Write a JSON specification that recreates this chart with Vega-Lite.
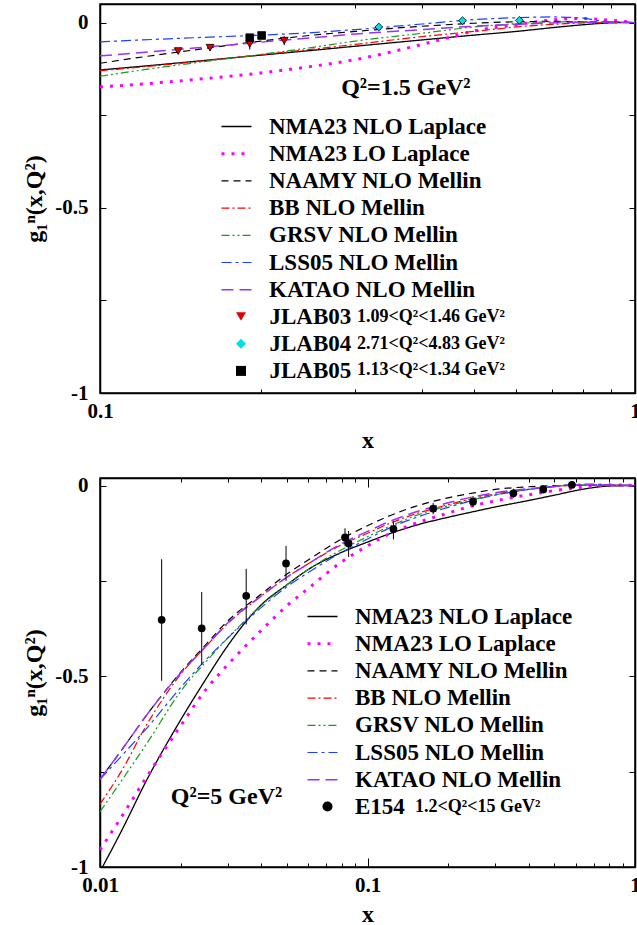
{
  "$schema": "https://vega.github.io/schema/vega-lite/v6.json",
  "padding": {"left": 22, "top": 2, "right": 0, "bottom": 0},
  "spacing": 20,
  "resolve": {"scale": {"stroke": "independent", "strokeDash": "independent", "strokeWidth": "independent", "shape": "independent", "fill": "independent", "opacity": "independent"}},
  "config": {
    "font": "Liberation Serif",
    "view": {"stroke": "black", "strokeWidth": 1.5},
    "axis": {"labelFont": "Liberation Serif", "labelFontSize": 21, "labelFontWeight": "bold", "labelColor": "black", "titleFont": "Liberation Serif", "titleFontSize": 24, "titleFontWeight": "bold", "titleColor": "black", "domainColor": "black", "domainWidth": 1.5, "tickColor": "black", "tickWidth": 1, "grid": false, "labelFlush": false, "labelOverlap": false},
    "legend": {"labelFont": "Liberation Serif", "labelFontWeight": "bold", "labelColor": "black", "labelLimit": 0, "padding": 0, "symbolOpacity": 1},
    "text": {"font": "Liberation Serif", "fontWeight": "bold", "fontSize": 24, "color": "black"}
  },
  "datasets": {
    "top_curves": [
      {"model":"NMA23 NLO Laplace","x":0.1,"g1":-0.128},{"model":"NMA23 NLO Laplace","x":0.12,"g1":-0.118},{"model":"NMA23 NLO Laplace","x":0.15,"g1":-0.105},{"model":"NMA23 NLO Laplace","x":0.2,"g1":-0.088},{"model":"NMA23 NLO Laplace","x":0.25,"g1":-0.075},{"model":"NMA23 NLO Laplace","x":0.3,"g1":-0.064},{"model":"NMA23 NLO Laplace","x":0.4,"g1":-0.047},{"model":"NMA23 NLO Laplace","x":0.5,"g1":-0.034},{"model":"NMA23 NLO Laplace","x":0.6,"g1":-0.024},{"model":"NMA23 NLO Laplace","x":0.7,"g1":-0.014},{"model":"NMA23 NLO Laplace","x":0.8,"g1":-0.006},{"model":"NMA23 NLO Laplace","x":0.9,"g1":-0.001},{"model":"NMA23 NLO Laplace","x":1,"g1":0},
      {"model":"NMA23 LO Laplace","x":0.1,"g1":-0.174},{"model":"NMA23 LO Laplace","x":0.12,"g1":-0.166},{"model":"NMA23 LO Laplace","x":0.15,"g1":-0.154},{"model":"NMA23 LO Laplace","x":0.2,"g1":-0.136},{"model":"NMA23 LO Laplace","x":0.25,"g1":-0.118},{"model":"NMA23 LO Laplace","x":0.3,"g1":-0.1},{"model":"NMA23 LO Laplace","x":0.4,"g1":-0.059},{"model":"NMA23 LO Laplace","x":0.45,"g1":-0.04},{"model":"NMA23 LO Laplace","x":0.5,"g1":-0.023},{"model":"NMA23 LO Laplace","x":0.6,"g1":-0.006},{"model":"NMA23 LO Laplace","x":0.7,"g1":0.007},{"model":"NMA23 LO Laplace","x":0.8,"g1":0.011},{"model":"NMA23 LO Laplace","x":0.9,"g1":0.006},{"model":"NMA23 LO Laplace","x":1,"g1":0},
      {"model":"NAAMY NLO Mellin","x":0.1,"g1":-0.11},{"model":"NAAMY NLO Mellin","x":0.12,"g1":-0.093},{"model":"NAAMY NLO Mellin","x":0.15,"g1":-0.074},{"model":"NAAMY NLO Mellin","x":0.2,"g1":-0.05},{"model":"NAAMY NLO Mellin","x":0.25,"g1":-0.034},{"model":"NAAMY NLO Mellin","x":0.3,"g1":-0.024},{"model":"NAAMY NLO Mellin","x":0.4,"g1":-0.01},{"model":"NAAMY NLO Mellin","x":0.5,"g1":-0.002},{"model":"NAAMY NLO Mellin","x":0.6,"g1":0.002},{"model":"NAAMY NLO Mellin","x":0.7,"g1":0.003},{"model":"NAAMY NLO Mellin","x":0.8,"g1":0.002},{"model":"NAAMY NLO Mellin","x":0.9,"g1":0.001},{"model":"NAAMY NLO Mellin","x":1,"g1":0},
      {"model":"BB NLO Mellin","x":0.1,"g1":-0.13},{"model":"BB NLO Mellin","x":0.12,"g1":-0.12},{"model":"BB NLO Mellin","x":0.15,"g1":-0.106},{"model":"BB NLO Mellin","x":0.2,"g1":-0.087},{"model":"BB NLO Mellin","x":0.25,"g1":-0.072},{"model":"BB NLO Mellin","x":0.3,"g1":-0.059},{"model":"BB NLO Mellin","x":0.4,"g1":-0.038},{"model":"BB NLO Mellin","x":0.5,"g1":-0.024},{"model":"BB NLO Mellin","x":0.6,"g1":-0.012},{"model":"BB NLO Mellin","x":0.7,"g1":-0.005},{"model":"BB NLO Mellin","x":0.8,"g1":-0.001},{"model":"BB NLO Mellin","x":0.9,"g1":0},{"model":"BB NLO Mellin","x":1,"g1":0},
      {"model":"GRSV NLO Mellin","x":0.1,"g1":-0.145},{"model":"GRSV NLO Mellin","x":0.12,"g1":-0.128},{"model":"GRSV NLO Mellin","x":0.15,"g1":-0.109},{"model":"GRSV NLO Mellin","x":0.2,"g1":-0.086},{"model":"GRSV NLO Mellin","x":0.25,"g1":-0.067},{"model":"GRSV NLO Mellin","x":0.3,"g1":-0.05},{"model":"GRSV NLO Mellin","x":0.4,"g1":-0.029},{"model":"GRSV NLO Mellin","x":0.5,"g1":-0.012},{"model":"GRSV NLO Mellin","x":0.6,"g1":-0.003},{"model":"GRSV NLO Mellin","x":0.7,"g1":0.002},{"model":"GRSV NLO Mellin","x":0.8,"g1":0.002},{"model":"GRSV NLO Mellin","x":0.9,"g1":0.001},{"model":"GRSV NLO Mellin","x":1,"g1":0},
      {"model":"LSS05 NLO Mellin","x":0.1,"g1":-0.052},{"model":"LSS05 NLO Mellin","x":0.12,"g1":-0.047},{"model":"LSS05 NLO Mellin","x":0.15,"g1":-0.041},{"model":"LSS05 NLO Mellin","x":0.2,"g1":-0.034},{"model":"LSS05 NLO Mellin","x":0.25,"g1":-0.027},{"model":"LSS05 NLO Mellin","x":0.3,"g1":-0.019},{"model":"LSS05 NLO Mellin","x":0.4,"g1":-0.004},{"model":"LSS05 NLO Mellin","x":0.5,"g1":0.008},{"model":"LSS05 NLO Mellin","x":0.6,"g1":0.013},{"model":"LSS05 NLO Mellin","x":0.7,"g1":0.015},{"model":"LSS05 NLO Mellin","x":0.8,"g1":0.012},{"model":"LSS05 NLO Mellin","x":0.85,"g1":0.006},{"model":"LSS05 NLO Mellin","x":0.9,"g1":0.002},{"model":"LSS05 NLO Mellin","x":1,"g1":0},
      {"model":"KATAO NLO Mellin","x":0.1,"g1":-0.09},{"model":"KATAO NLO Mellin","x":0.12,"g1":-0.081},{"model":"KATAO NLO Mellin","x":0.15,"g1":-0.069},{"model":"KATAO NLO Mellin","x":0.2,"g1":-0.053},{"model":"KATAO NLO Mellin","x":0.25,"g1":-0.041},{"model":"KATAO NLO Mellin","x":0.3,"g1":-0.031},{"model":"KATAO NLO Mellin","x":0.4,"g1":-0.019},{"model":"KATAO NLO Mellin","x":0.5,"g1":-0.01},{"model":"KATAO NLO Mellin","x":0.6,"g1":-0.005},{"model":"KATAO NLO Mellin","x":0.7,"g1":-0.001},{"model":"KATAO NLO Mellin","x":0.8,"g1":0.001},{"model":"KATAO NLO Mellin","x":0.9,"g1":0.001},{"model":"KATAO NLO Mellin","x":1,"g1":0}
    ],
    "top_points": [
      {"dataset":"JLAB03","qrange":"1.09<Q²<1.46 GeV²","x":0.140,"g1":-0.077,"lo":-0.085,"hi":-0.069},
      {"dataset":"JLAB03","qrange":"1.09<Q²<1.46 GeV²","x":0.1606,"g1":-0.068,"lo":-0.076,"hi":-0.060},
      {"dataset":"JLAB03","qrange":"1.09<Q²<1.46 GeV²","x":0.1905,"g1":-0.058,"lo":-0.073,"hi":-0.043},
      {"dataset":"JLAB03","qrange":"1.09<Q²<1.46 GeV²","x":0.221,"g1":-0.049,"lo":-0.061,"hi":-0.037},
      {"dataset":"JLAB04","qrange":"2.71<Q²<4.83 GeV²","x":0.332,"g1":-0.012,"lo":-0.016,"hi":-0.008},
      {"dataset":"JLAB04","qrange":"2.71<Q²<4.83 GeV²","x":0.476,"g1":0.005,"lo":0.002,"hi":0.008},
      {"dataset":"JLAB04","qrange":"2.71<Q²<4.83 GeV²","x":0.608,"g1":0.006,"lo":0.003,"hi":0.009},
      {"dataset":"JLAB05","qrange":"1.13<Q²<1.34 GeV²","x":0.1905,"g1":-0.041,"lo":-0.046,"hi":-0.036},
      {"dataset":"JLAB05","qrange":"1.13<Q²<1.34 GeV²","x":0.2005,"g1":-0.035,"lo":-0.040,"hi":-0.030}
    ],
    "bottom_curves": [
      {"model":"NMA23 NLO Laplace","x":0.01,"g1":-1.012},{"model":"NMA23 NLO Laplace","x":0.012,"g1":-0.907},{"model":"NMA23 NLO Laplace","x":0.015,"g1":-0.77},{"model":"NMA23 NLO Laplace","x":0.02,"g1":-0.615},{"model":"NMA23 NLO Laplace","x":0.025,"g1":-0.505},{"model":"NMA23 NLO Laplace","x":0.03,"g1":-0.42},{"model":"NMA23 NLO Laplace","x":0.04,"g1":-0.313},{"model":"NMA23 NLO Laplace","x":0.05,"g1":-0.26},{"model":"NMA23 NLO Laplace","x":0.06,"g1":-0.22},{"model":"NMA23 NLO Laplace","x":0.08,"g1":-0.175},{"model":"NMA23 NLO Laplace","x":0.1,"g1":-0.148},{"model":"NMA23 NLO Laplace","x":0.12,"g1":-0.127},{"model":"NMA23 NLO Laplace","x":0.15,"g1":-0.105},{"model":"NMA23 NLO Laplace","x":0.2,"g1":-0.083},{"model":"NMA23 NLO Laplace","x":0.25,"g1":-0.068},{"model":"NMA23 NLO Laplace","x":0.3,"g1":-0.056},{"model":"NMA23 NLO Laplace","x":0.4,"g1":-0.039},{"model":"NMA23 NLO Laplace","x":0.5,"g1":-0.025},{"model":"NMA23 NLO Laplace","x":0.6,"g1":-0.013},{"model":"NMA23 NLO Laplace","x":0.7,"g1":-0.005},{"model":"NMA23 NLO Laplace","x":0.8,"g1":-0.001},{"model":"NMA23 NLO Laplace","x":1,"g1":0},
      {"model":"NMA23 LO Laplace","x":0.01,"g1":-0.955},{"model":"NMA23 LO Laplace","x":0.012,"g1":-0.87},{"model":"NMA23 LO Laplace","x":0.015,"g1":-0.762},{"model":"NMA23 LO Laplace","x":0.02,"g1":-0.63},{"model":"NMA23 LO Laplace","x":0.025,"g1":-0.533},{"model":"NMA23 LO Laplace","x":0.03,"g1":-0.47},{"model":"NMA23 LO Laplace","x":0.04,"g1":-0.38},{"model":"NMA23 LO Laplace","x":0.05,"g1":-0.315},{"model":"NMA23 LO Laplace","x":0.06,"g1":-0.27},{"model":"NMA23 LO Laplace","x":0.08,"g1":-0.2},{"model":"NMA23 LO Laplace","x":0.1,"g1":-0.158},{"model":"NMA23 LO Laplace","x":0.12,"g1":-0.127},{"model":"NMA23 LO Laplace","x":0.15,"g1":-0.1},{"model":"NMA23 LO Laplace","x":0.2,"g1":-0.072},{"model":"NMA23 LO Laplace","x":0.25,"g1":-0.052},{"model":"NMA23 LO Laplace","x":0.3,"g1":-0.04},{"model":"NMA23 LO Laplace","x":0.4,"g1":-0.024},{"model":"NMA23 LO Laplace","x":0.5,"g1":-0.013},{"model":"NMA23 LO Laplace","x":0.6,"g1":-0.006},{"model":"NMA23 LO Laplace","x":0.7,"g1":-0.001},{"model":"NMA23 LO Laplace","x":0.8,"g1":0.002},{"model":"NMA23 LO Laplace","x":1,"g1":0},
      {"model":"NAAMY NLO Mellin","x":0.01,"g1":-0.77},{"model":"NAAMY NLO Mellin","x":0.012,"g1":-0.695},{"model":"NAAMY NLO Mellin","x":0.015,"g1":-0.6},{"model":"NAAMY NLO Mellin","x":0.02,"g1":-0.49},{"model":"NAAMY NLO Mellin","x":0.025,"g1":-0.415},{"model":"NAAMY NLO Mellin","x":0.03,"g1":-0.355},{"model":"NAAMY NLO Mellin","x":0.04,"g1":-0.285},{"model":"NAAMY NLO Mellin","x":0.05,"g1":-0.232},{"model":"NAAMY NLO Mellin","x":0.06,"g1":-0.195},{"model":"NAAMY NLO Mellin","x":0.08,"g1":-0.14},{"model":"NAAMY NLO Mellin","x":0.1,"g1":-0.105},{"model":"NAAMY NLO Mellin","x":0.12,"g1":-0.08},{"model":"NAAMY NLO Mellin","x":0.15,"g1":-0.055},{"model":"NAAMY NLO Mellin","x":0.2,"g1":-0.032},{"model":"NAAMY NLO Mellin","x":0.25,"g1":-0.019},{"model":"NAAMY NLO Mellin","x":0.3,"g1":-0.01},{"model":"NAAMY NLO Mellin","x":0.4,"g1":-0.003},{"model":"NAAMY NLO Mellin","x":0.5,"g1":0},{"model":"NAAMY NLO Mellin","x":0.6,"g1":0.001},{"model":"NAAMY NLO Mellin","x":0.7,"g1":0.001},{"model":"NAAMY NLO Mellin","x":0.8,"g1":0.001},{"model":"NAAMY NLO Mellin","x":1,"g1":0},
      {"model":"BB NLO Mellin","x":0.01,"g1":-0.835},{"model":"BB NLO Mellin","x":0.012,"g1":-0.75},{"model":"BB NLO Mellin","x":0.015,"g1":-0.625},{"model":"BB NLO Mellin","x":0.02,"g1":-0.495},{"model":"BB NLO Mellin","x":0.025,"g1":-0.42},{"model":"BB NLO Mellin","x":0.03,"g1":-0.362},{"model":"BB NLO Mellin","x":0.04,"g1":-0.29},{"model":"BB NLO Mellin","x":0.05,"g1":-0.24},{"model":"BB NLO Mellin","x":0.06,"g1":-0.205},{"model":"BB NLO Mellin","x":0.08,"g1":-0.155},{"model":"BB NLO Mellin","x":0.1,"g1":-0.125},{"model":"BB NLO Mellin","x":0.12,"g1":-0.1},{"model":"BB NLO Mellin","x":0.15,"g1":-0.075},{"model":"BB NLO Mellin","x":0.2,"g1":-0.05},{"model":"BB NLO Mellin","x":0.25,"g1":-0.033},{"model":"BB NLO Mellin","x":0.3,"g1":-0.022},{"model":"BB NLO Mellin","x":0.4,"g1":-0.01},{"model":"BB NLO Mellin","x":0.5,"g1":-0.003},{"model":"BB NLO Mellin","x":0.6,"g1":0.001},{"model":"BB NLO Mellin","x":0.7,"g1":0.001},{"model":"BB NLO Mellin","x":0.8,"g1":0.001},{"model":"BB NLO Mellin","x":1,"g1":0},
      {"model":"GRSV NLO Mellin","x":0.01,"g1":-0.855},{"model":"GRSV NLO Mellin","x":0.012,"g1":-0.775},{"model":"GRSV NLO Mellin","x":0.015,"g1":-0.675},{"model":"GRSV NLO Mellin","x":0.02,"g1":-0.54},{"model":"GRSV NLO Mellin","x":0.025,"g1":-0.46},{"model":"GRSV NLO Mellin","x":0.03,"g1":-0.4},{"model":"GRSV NLO Mellin","x":0.04,"g1":-0.315},{"model":"GRSV NLO Mellin","x":0.05,"g1":-0.26},{"model":"GRSV NLO Mellin","x":0.06,"g1":-0.22},{"model":"GRSV NLO Mellin","x":0.08,"g1":-0.168},{"model":"GRSV NLO Mellin","x":0.1,"g1":-0.134},{"model":"GRSV NLO Mellin","x":0.12,"g1":-0.108},{"model":"GRSV NLO Mellin","x":0.15,"g1":-0.08},{"model":"GRSV NLO Mellin","x":0.2,"g1":-0.053},{"model":"GRSV NLO Mellin","x":0.25,"g1":-0.036},{"model":"GRSV NLO Mellin","x":0.3,"g1":-0.024},{"model":"GRSV NLO Mellin","x":0.4,"g1":-0.01},{"model":"GRSV NLO Mellin","x":0.5,"g1":-0.002},{"model":"GRSV NLO Mellin","x":0.6,"g1":0.002},{"model":"GRSV NLO Mellin","x":0.7,"g1":0.001},{"model":"GRSV NLO Mellin","x":0.8,"g1":0.001},{"model":"GRSV NLO Mellin","x":1,"g1":0},
      {"model":"LSS05 NLO Mellin","x":0.01,"g1":-0.77},{"model":"LSS05 NLO Mellin","x":0.012,"g1":-0.71},{"model":"LSS05 NLO Mellin","x":0.015,"g1":-0.635},{"model":"LSS05 NLO Mellin","x":0.02,"g1":-0.53},{"model":"LSS05 NLO Mellin","x":0.025,"g1":-0.455},{"model":"LSS05 NLO Mellin","x":0.03,"g1":-0.4},{"model":"LSS05 NLO Mellin","x":0.04,"g1":-0.32},{"model":"LSS05 NLO Mellin","x":0.05,"g1":-0.265},{"model":"LSS05 NLO Mellin","x":0.06,"g1":-0.228},{"model":"LSS05 NLO Mellin","x":0.08,"g1":-0.175},{"model":"LSS05 NLO Mellin","x":0.1,"g1":-0.14},{"model":"LSS05 NLO Mellin","x":0.12,"g1":-0.112},{"model":"LSS05 NLO Mellin","x":0.15,"g1":-0.085},{"model":"LSS05 NLO Mellin","x":0.2,"g1":-0.057},{"model":"LSS05 NLO Mellin","x":0.25,"g1":-0.038},{"model":"LSS05 NLO Mellin","x":0.3,"g1":-0.025},{"model":"LSS05 NLO Mellin","x":0.4,"g1":-0.01},{"model":"LSS05 NLO Mellin","x":0.5,"g1":-0.002},{"model":"LSS05 NLO Mellin","x":0.6,"g1":0.003},{"model":"LSS05 NLO Mellin","x":0.7,"g1":0.004},{"model":"LSS05 NLO Mellin","x":0.8,"g1":0.002},{"model":"LSS05 NLO Mellin","x":1,"g1":0},
      {"model":"KATAO NLO Mellin","x":0.01,"g1":-0.77},{"model":"KATAO NLO Mellin","x":0.012,"g1":-0.695},{"model":"KATAO NLO Mellin","x":0.015,"g1":-0.6},{"model":"KATAO NLO Mellin","x":0.02,"g1":-0.492},{"model":"KATAO NLO Mellin","x":0.025,"g1":-0.42},{"model":"KATAO NLO Mellin","x":0.03,"g1":-0.36},{"model":"KATAO NLO Mellin","x":0.04,"g1":-0.29},{"model":"KATAO NLO Mellin","x":0.05,"g1":-0.24},{"model":"KATAO NLO Mellin","x":0.06,"g1":-0.205},{"model":"KATAO NLO Mellin","x":0.08,"g1":-0.152},{"model":"KATAO NLO Mellin","x":0.1,"g1":-0.12},{"model":"KATAO NLO Mellin","x":0.12,"g1":-0.095},{"model":"KATAO NLO Mellin","x":0.15,"g1":-0.07},{"model":"KATAO NLO Mellin","x":0.2,"g1":-0.045},{"model":"KATAO NLO Mellin","x":0.25,"g1":-0.029},{"model":"KATAO NLO Mellin","x":0.3,"g1":-0.019},{"model":"KATAO NLO Mellin","x":0.4,"g1":-0.008},{"model":"KATAO NLO Mellin","x":0.5,"g1":-0.002},{"model":"KATAO NLO Mellin","x":0.6,"g1":0.002},{"model":"KATAO NLO Mellin","x":0.7,"g1":0.002},{"model":"KATAO NLO Mellin","x":0.8,"g1":0.002},{"model":"KATAO NLO Mellin","x":1,"g1":0}
    ],
    "bottom_points": [
      {"dataset":"E154","qrange":"1.2<Q²<15 GeV²","x":0.017,"g1":-0.352,"lo":-0.512,"hi":-0.193},
      {"dataset":"E154","qrange":"1.2<Q²<15 GeV²","x":0.024,"g1":-0.374,"lo":-0.47,"hi":-0.279},
      {"dataset":"E154","qrange":"1.2<Q²<15 GeV²","x":0.0352,"g1":-0.289,"lo":-0.364,"hi":-0.218},
      {"dataset":"E154","qrange":"1.2<Q²<15 GeV²","x":0.0496,"g1":-0.204,"lo":-0.25,"hi":-0.158},
      {"dataset":"E154","qrange":"1.2<Q²<15 GeV²","x":0.0824,"g1":-0.136,"lo":-0.158,"hi":-0.112},
      {"dataset":"E154","qrange":"1.2<Q²<15 GeV²","x":0.085,"g1":-0.152,"lo":-0.187,"hi":-0.119},
      {"dataset":"E154","qrange":"1.2<Q²<15 GeV²","x":0.125,"g1":-0.114,"lo":-0.141,"hi":-0.093},
      {"dataset":"E154","qrange":"1.2<Q²<15 GeV²","x":0.176,"g1":-0.06,"lo":-0.075,"hi":-0.045},
      {"dataset":"E154","qrange":"1.2<Q²<15 GeV²","x":0.248,"g1":-0.042,"lo":-0.057,"hi":-0.027},
      {"dataset":"E154","qrange":"1.2<Q²<15 GeV²","x":0.351,"g1":-0.02,"lo":-0.032,"hi":-0.008},
      {"dataset":"E154","qrange":"1.2<Q²<15 GeV²","x":0.454,"g1":-0.01,"lo":-0.02,"hi":0.0},
      {"dataset":"E154","qrange":"1.2<Q²<15 GeV²","x":0.581,"g1":0.002,"lo":-0.004,"hi":0.008}
    ],
    "top_label": [{"x":0.373,"g1":-0.178,"label":"Q²=1.5 GeV²"}],
    "bottom_label": [{"x":0.0297,"g1":-0.816,"label":"Q²=5 GeV²"}]
  },
  "vconcat": [
    {
      "width": 535,
      "height": 389,
      "layer": [
        {
          "data": {"name": "top_curves"},
          "mark": {"type": "line", "clip": true, "interpolate": "monotone"},
          "encoding": {
            "x": {"field": "x", "type": "quantitative", "scale": {"type": "log", "domain": [0.1, 1], "nice": false},
                  "axis": {"orient": "bottom", "title": "x", "values": [0.1,0.2,0.3,0.4,0.5,0.6,0.7,0.8,0.9,1],
                           "labelExpr": "datum.value == 0.1 ? '0.1' : datum.value == 1 ? '1' : ''",
                           "tickSize": {"condition": {"test": "datum.value == 0.1 || datum.value == 1", "value": -9}, "value": -4},
                           "labelPadding": 16, "titlePadding": 2}},
            "y": {"field": "g1", "type": "quantitative", "scale": {"domain": [-1, 0.05], "nice": false, "zero": false},
                  "axis": {"orient": "left", "title": "g₁ⁿ(x,Q²)", "values": [0,-0.25,-0.5,-0.75,-1],
                           "labelExpr": "datum.value == 0 ? '0' : datum.value == -0.5 ? '-0.5' : datum.value == -1 ? '-1' : ''",
                           "tickSize": -6, "labelPadding": 18, "titlePadding": 8}},
            "stroke": {"field": "model", "type": "nominal",
                       "scale": {"domain": ["NMA23 NLO Laplace","NMA23 LO Laplace","NAAMY NLO Mellin","BB NLO Mellin","GRSV NLO Mellin","LSS05 NLO Mellin","KATAO NLO Mellin"],
                                 "range": ["#000000","#ff00ff","#000000","#ff0000","#1a9a1a","#1f3fff","#9b30ff"]},
                       "legend": {"orient": "none", "legendX": 125, "legendY": 111, "title": null, "labelFontSize": 23, "symbolType": "M-2.5,0H2.5", "symbolSize": 144, "labelOffset": 21, "rowPadding": 3.2}},
            "strokeDash": {"field": "model", "type": "nominal",
                       "scale": {"domain": ["NMA23 NLO Laplace","NMA23 LO Laplace","NAAMY NLO Mellin","BB NLO Mellin","GRSV NLO Mellin","LSS05 NLO Mellin","KATAO NLO Mellin"],
                                 "range": [[1,0],[3,7],[7,5],[8,3,2,3],[8,3,2,3,2,3],[10,4,3,4],[12,6]]}},
            "strokeWidth": {"field": "model", "type": "nominal",
                       "scale": {"type": "ordinal", "domain": ["NMA23 NLO Laplace","NMA23 LO Laplace","NAAMY NLO Mellin","BB NLO Mellin","GRSV NLO Mellin","LSS05 NLO Mellin","KATAO NLO Mellin"],
                                 "range": [1.3,3,1.2,1.2,1.2,1.2,1.5]}}
          }
        },
        {
          "data": {"name": "top_points"},
          "mark": {"type": "rule", "color": "black", "strokeWidth": 1},
          "encoding": {
            "x": {"field": "x", "type": "quantitative", "scale": {"type": "log", "domain": [0.1, 1], "nice": false},
                  "axis": {"orient": "top", "title": null, "labels": false, "values": [0.1,0.2,0.3,0.4,0.5,0.6,0.7,0.8,0.9,1],
                           "tickSize": {"condition": {"test": "datum.value == 0.1 || datum.value == 1", "value": -9}, "value": -4}}},
            "y": {"field": "lo", "type": "quantitative", "scale": {"domain": [-1, 0.05], "nice": false, "zero": false},
                  "axis": {"orient": "right", "title": null, "labels": false, "values": [0,-0.25,-0.5,-0.75,-1], "tickSize": -6}},
            "y2": {"field": "hi"}
          }
        },
        {
          "data": {"name": "top_points"},
          "mark": {"type": "point", "filled": true, "size": 60, "stroke": "black", "strokeWidth": 0.8},
          "encoding": {
            "x": {"field": "x", "type": "quantitative", "scale": {"type": "log", "domain": [0.1, 1], "nice": false}, "axis": null},
            "y": {"field": "g1", "type": "quantitative", "scale": {"domain": [-1, 0.05], "nice": false, "zero": false}, "axis": null},
            "shape": {"field": "dataset", "type": "nominal",
                      "scale": {"domain": ["JLAB03","JLAB04","JLAB05"], "range": ["triangle-down","diamond","square"]},
                      "legend": {"orient": "none", "legendX": 129.5, "legendY": 301, "title": null, "labelFontSize": 23, "labelOffset": 17, "rowPadding": 3.2, "symbolStrokeColor": "black", "symbolStrokeWidth": 0.8}},
            "fill": {"field": "dataset", "type": "nominal",
                     "scale": {"domain": ["JLAB03","JLAB04","JLAB05"], "range": ["#e00000","#00e0e0","#000000"]}},
            "opacity": {"field": "qrange", "type": "nominal",
                        "scale": {"domain": ["1.09<Q²<1.46 GeV²","2.71<Q²<4.83 GeV²","1.13<Q²<1.34 GeV²"], "range": [1,1]},
                        "legend": {"orient": "none", "legendX": 239, "legendY": 304, "title": null, "labelFontSize": 18, "symbolSize": 0, "labelOffset": 0, "rowPadding": 8.5}}
          }
        },
        {
          "data": {"name": "top_label"},
          "mark": {"type": "text", "align": "center", "baseline": "middle", "fontSize": 24},
          "encoding": {
            "x": {"field": "x", "type": "quantitative", "scale": {"type": "log", "domain": [0.1, 1], "nice": false}, "axis": null},
            "y": {"field": "g1", "type": "quantitative", "scale": {"domain": [-1, 0.05], "nice": false, "zero": false}, "axis": null},
            "text": {"field": "label"}
          }
        }
      ],
      "resolve": {"axis": {"x": "independent", "y": "independent"}}
    },
    {
      "width": 535,
      "height": 389,
      "layer": [
        {
          "data": {"name": "bottom_curves"},
          "mark": {"type": "line", "clip": true, "interpolate": "monotone"},
          "encoding": {
            "x": {"field": "x", "type": "quantitative", "scale": {"type": "log", "domain": [0.01, 1], "nice": false},
                  "axis": {"orient": "bottom", "title": "x", "values": [0.01,0.02,0.03,0.04,0.05,0.06,0.07,0.08,0.09,0.1,0.2,0.3,0.4,0.5,0.6,0.7,0.8,0.9,1],
                           "labelExpr": "datum.value == 0.01 ? '0.01' : datum.value == 0.1 ? '0.1' : datum.value == 1 ? '1' : ''",
                           "tickSize": {"condition": {"test": "datum.value == 0.01 || datum.value == 0.1 || datum.value == 1", "value": -9}, "value": -4},
                           "labelPadding": 16, "titlePadding": 2}},
            "y": {"field": "g1", "type": "quantitative", "scale": {"domain": [-1, 0.02], "nice": false, "zero": false},
                  "axis": {"orient": "left", "title": "g₁ⁿ(x,Q²)", "values": [0,-0.25,-0.5,-0.75,-1],
                           "labelExpr": "datum.value == 0 ? '0' : datum.value == -0.5 ? '-0.5' : datum.value == -1 ? '-1' : ''",
                           "tickSize": -6, "labelPadding": 18, "titlePadding": 8}},
            "stroke": {"field": "model", "type": "nominal",
                       "scale": {"domain": ["NMA23 NLO Laplace","NMA23 LO Laplace","NAAMY NLO Mellin","BB NLO Mellin","GRSV NLO Mellin","LSS05 NLO Mellin","KATAO NLO Mellin"],
                                 "range": ["#000000","#ff00ff","#000000","#ff0000","#1a9a1a","#1f3fff","#9b30ff"]},
                       "legend": {"orient": "none", "legendX": 211, "legendY": 127, "title": null, "labelFontSize": 23, "symbolType": "M-2.5,0H2.5", "symbolSize": 144, "labelOffset": 21, "rowPadding": 3.2}},
            "strokeDash": {"field": "model", "type": "nominal",
                       "scale": {"domain": ["NMA23 NLO Laplace","NMA23 LO Laplace","NAAMY NLO Mellin","BB NLO Mellin","GRSV NLO Mellin","LSS05 NLO Mellin","KATAO NLO Mellin"],
                                 "range": [[1,0],[3,7],[7,5],[8,3,2,3],[8,3,2,3,2,3],[10,4,3,4],[12,6]]}},
            "strokeWidth": {"field": "model", "type": "nominal",
                       "scale": {"type": "ordinal", "domain": ["NMA23 NLO Laplace","NMA23 LO Laplace","NAAMY NLO Mellin","BB NLO Mellin","GRSV NLO Mellin","LSS05 NLO Mellin","KATAO NLO Mellin"],
                                 "range": [1.3,3,1.2,1.2,1.2,1.2,1.5]}}
          }
        },
        {
          "data": {"name": "bottom_points"},
          "mark": {"type": "rule", "color": "black", "strokeWidth": 1},
          "encoding": {
            "x": {"field": "x", "type": "quantitative", "scale": {"type": "log", "domain": [0.01, 1], "nice": false},
                  "axis": {"orient": "top", "title": null, "labels": false, "values": [0.01,0.02,0.03,0.04,0.05,0.06,0.07,0.08,0.09,0.1,0.2,0.3,0.4,0.5,0.6,0.7,0.8,0.9,1],
                           "tickSize": {"condition": {"test": "datum.value == 0.01 || datum.value == 0.1 || datum.value == 1", "value": -9}, "value": -4}}},
            "y": {"field": "lo", "type": "quantitative", "scale": {"domain": [-1, 0.02], "nice": false, "zero": false},
                  "axis": {"orient": "right", "title": null, "labels": false, "values": [0,-0.25,-0.5,-0.75,-1], "tickSize": -6}},
            "y2": {"field": "hi"}
          }
        },
        {
          "data": {"name": "bottom_points"},
          "mark": {"type": "point", "filled": true, "size": 60},
          "encoding": {
            "x": {"field": "x", "type": "quantitative", "scale": {"type": "log", "domain": [0.01, 1], "nice": false}, "axis": null},
            "y": {"field": "g1", "type": "quantitative", "scale": {"domain": [-1, 0.02], "nice": false, "zero": false}, "axis": null},
            "shape": {"field": "dataset", "type": "nominal",
                      "scale": {"domain": ["E154"], "range": ["circle"]},
                      "legend": {"orient": "none", "legendX": 216, "legendY": 317, "title": null, "labelFontSize": 23, "labelOffset": 16, "rowPadding": 3.2}},
            "fill": {"field": "dataset", "type": "nominal", "scale": {"domain": ["E154"], "range": ["#000000"]}},
            "opacity": {"field": "qrange", "type": "nominal",
                        "scale": {"domain": ["1.2<Q²<15 GeV²"], "range": [1,1]},
                        "legend": {"orient": "none", "legendX": 297, "legendY": 320, "title": null, "labelFontSize": 18, "symbolSize": 0, "labelOffset": 0, "rowPadding": 8.5}}
          }
        },
        {
          "data": {"name": "bottom_label"},
          "mark": {"type": "text", "align": "center", "baseline": "middle", "fontSize": 24},
          "encoding": {
            "x": {"field": "x", "type": "quantitative", "scale": {"type": "log", "domain": [0.01, 1], "nice": false}, "axis": null},
            "y": {"field": "g1", "type": "quantitative", "scale": {"domain": [-1, 0.02], "nice": false, "zero": false}, "axis": null},
            "text": {"field": "label"}
          }
        }
      ],
      "resolve": {"axis": {"x": "independent", "y": "independent"}}
    }
  ]
}
